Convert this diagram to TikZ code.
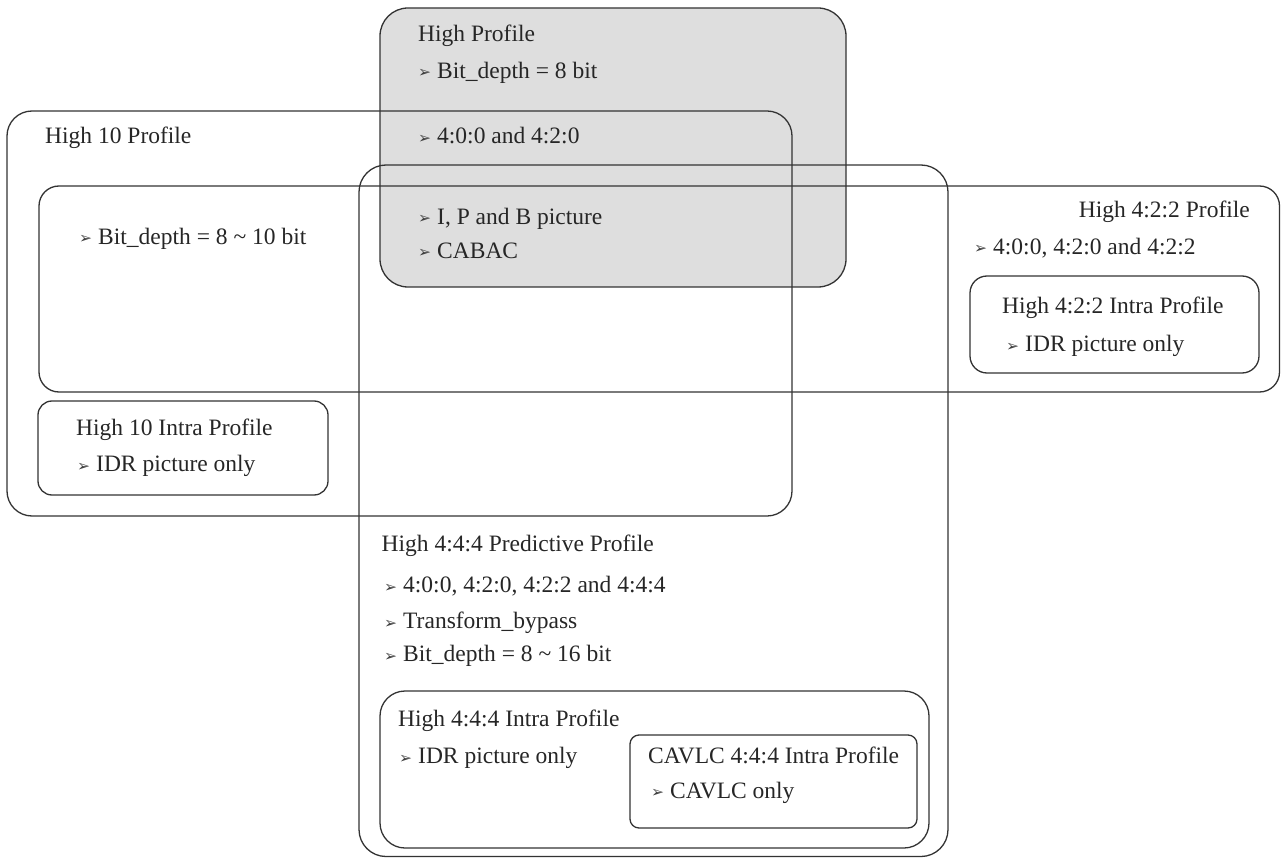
\documentclass[tikz,border=0pt]{standalone}
\usepackage{fontspec}
\setmainfont{Liberation Serif}
\newfontfamily\dejavu{DejaVu Sans}
\newcommand{\bul}{\makebox[19pt][l]{\raisebox{0.5pt}{\color{black!75}\dejavu\fontsize{15.5}{15.5}\selectfont ➢}}}
\begin{document}
\begin{tikzpicture}[x=1pt,y=-1pt,
  boxline/.style={draw=black!80, line width=1.3pt},
  txt/.style={anchor=west, inner sep=0pt, text height=16pt, text depth=5pt, text=black!85,
    font=\fontsize{23.5}{28}\selectfont},
  txte/.style={txt, anchor=east}]
\useasboundingbox (0,0) rectangle (1281,858);
% gray High Profile box (behind)
\fill[black!13, rounded corners=28pt] (380,8) rectangle (846,287);
% outlines
\draw[boxline, rounded corners=28pt] (380,8) rectangle (846,287);
\draw[boxline, rounded corners=25pt] (7,111) rectangle (792,516);
\draw[boxline, rounded corners=20pt] (39,186) rectangle (1279.5,392);
\draw[boxline, rounded corners=27pt] (359,165) rectangle (948,856.5);
\draw[boxline, rounded corners=17pt] (970,276) rectangle (1259,373);
\draw[boxline, rounded corners=14pt] (38,401) rectangle (328,495);
\draw[boxline, rounded corners=25pt] (380,691) rectangle (929,848);
\draw[boxline, rounded corners=9pt] (630,735) rectangle (917,828);
% High Profile
\node[txt] (hp) at (418,36) {High Profile};
\node[txt] (hp1) at (418,73) {\bul Bit\_depth = 8 bit};
\node[txt] (hp2) at (418,138.5) {\bul 4:0:0 and 4:2:0};
\node[txt] (hp3) at (418,219) {\bul I, P and B picture};
\node[txt] (hp4) at (418,253) {\bul CABAC};
% High 10
\node[txt] (h10) at (45,138.5) {High 10 Profile};
\node[txt] (h101) at (79,239) {\bul Bit\_depth = 8 \textasciitilde{} 10 bit};
% High 4:2:2
\node[txte] (h422) at (1250,212) {High 4:2:2 Profile};
\node[txt] (h4221) at (974,249) {\bul 4:0:0, 4:2:0 and 4:2:2};
\node[txt] (h422i) at (1002,307.6) {High 4:2:2 Intra Profile};
\node[txt] (h422i1) at (1006,346) {\bul IDR picture only};
% High 10 Intra
\node[txt] (h10i) at (76,430) {High 10 Intra Profile};
\node[txt] (h10i1) at (77,466) {\bul IDR picture only};
% Predictive
\node[txt] (pred) at (381.5,546) {High 4:4:4 Predictive Profile};
\node[txt] (pred1) at (384,587) {\bul 4:0:0, 4:2:0, 4:2:2 and 4:4:4};
\node[txt] (pred2) at (384,623) {\bul Transform\_bypass};
\node[txt] (pred3) at (384,656) {\bul Bit\_depth = 8 \textasciitilde{} 16 bit};
% High 4:4:4 Intra
\node[txt] (h444i) at (398,721) {High 4:4:4 Intra Profile};
\node[txt] (h444i1) at (399,758) {\bul IDR picture only};
% CAVLC
\node[txt] (cav) at (648,757.5) {CAVLC 4:4:4 Intra Profile};
\node[txt] (cav1) at (651,792.5) {\bul CAVLC only};
\end{tikzpicture}
\end{document}
